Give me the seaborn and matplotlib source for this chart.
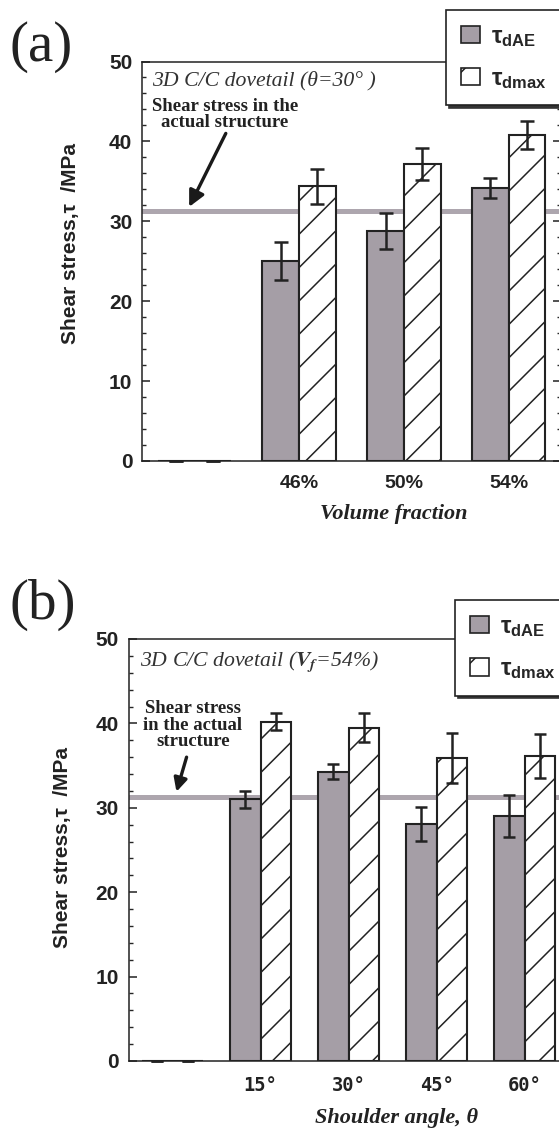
import matplotlib
matplotlib.use("Agg")
import matplotlib.pyplot as plt
from matplotlib.patches import Patch
from matplotlib.ticker import MultipleLocator
from matplotlib.font_manager import FontProperties
import numpy as np
import pandas as pd
import seaborn as sns

# ---- data -------------------------------------------------------------
series = ["dAE", "dmax"]

vf_labels = ["", "46%", "50%", "54%"]
vf_dae = [0.0, 25.0, 28.8, 34.2]
vf_dae_err = [0.0, 2.4, 2.3, 1.25]
vf_dmax = [0.0, 34.4, 37.2, 40.8]
vf_dmax_err = [0.0, 2.2, 2.0, 1.8]

ang_labels = ["", "15°", "30°", "45°", "60°"]
ang_dae = [0.0, 31.0, 34.3, 28.1, 29.0]
ang_dae_err = [0.0, 1.0, 0.9, 2.0, 2.5]
ang_dmax = [0.0, 40.2, 39.5, 35.9, 36.1]
ang_dmax_err = [0.0, 1.0, 1.7, 3.0, 2.6]

actual_stress = 31.3

# ---- style ------------------------------------------------------------
sns.set_style("ticks")
plt.rcParams.update({
    "font.family": ["Liberation Sans", "DejaVu Sans"],
    "font.weight": "bold",
    "axes.linewidth": 1.1,
    "hatch.color": "#222222",
    "hatch.linewidth": 1.1,
    "mathtext.fontset": "custom",
    "mathtext.bf": "Liberation Sans:bold",
    "mathtext.rm": "Liberation Sans",
    "mathtext.it": "Liberation Sans:italic",
})

GRAY = "#a59ea6"
EDGE = "#222222"
LINE = "#ada6ae"
SERIF = ["Liberation Serif", "DejaVu Serif"]

W, H = 559, 1136
fig = plt.figure(figsize=(W / 100, H / 100), dpi=100)
fig.patch.set_facecolor("white")


def long_frame(labels, dae, dmax):
    n = len(labels)
    return pd.DataFrame({
        "cat": labels * 2,
        "value": dae + dmax,
        "series": [series[0]] * n + [series[1]] * n,
    })


def draw_panel(ax, labels, dae, dae_err, dmax, dmax_err, capsize):
    df = long_frame(labels, dae, dmax)
    sns.barplot(data=df, x="cat", y="value", hue="series", order=labels,
                hue_order=series, palette={series[0]: GRAY, series[1]: "white"},
                errorbar=None, width=0.7, gap=0, saturation=1,
                edgecolor=EDGE, linewidth=1.5, legend=False, ax=ax, zorder=2)
    for p in ax.containers[1]:
        p.set_hatch("/")
    for cont, vals, errs in zip(ax.containers, [dae, dmax], [dae_err, dmax_err]):
        xs = [p.get_x() + p.get_width() / 2 for p in cont]
        eb = ax.errorbar(xs, vals, yerr=errs, fmt="none", ecolor=EDGE,
                         elinewidth=1.8, capsize=capsize, capthick=1.8, zorder=4)
        for art in eb.lines[1]:
            art.set_clip_on(False)
    ax.axhline(actual_stress, color=LINE, lw=3.6, zorder=1)
    ax.set_ylim(0, 50)
    ax.set_xlim(-0.5, len(labels) - 0.5)
    ax.yaxis.set_major_locator(MultipleLocator(10))
    ax.yaxis.set_minor_locator(MultipleLocator(2))
    ax.tick_params(axis="y", which="major", direction="in", length=6, width=1.1,
                   right=True, labelsize=15, pad=7, colors=EDGE)
    ax.tick_params(axis="y", which="minor", direction="in", length=3, width=1.0,
                   right=True)
    ax.tick_params(axis="x", length=0, pad=10, colors=EDGE)
    for s in ax.spines.values():
        s.set_visible(True)
        s.set_color(EDGE)
    ax.set_facecolor("white")


def add_legend(ax, anchor):
    handles = [Patch(facecolor=GRAY, edgecolor=EDGE, lw=1.2),
               Patch(facecolor="white", edgecolor=EDGE, lw=1.2, hatch="/")]
    labels = [r"$\mathbf{\tau}_{\mathbf{dAE}}$", r"$\mathbf{\tau}_{\mathbf{dmax}}$"]
    prop = FontProperties(family=["Liberation Sans"], weight="bold", size=17,
                          math_fontfamily="custom")
    leg = ax.legend(handles, labels, loc="upper left", bbox_to_anchor=anchor,
                    borderaxespad=0, frameon=True, fancybox=False,
                    shadow={"color": "#333333", "alpha": 1.0}, prop=prop,
                    handlelength=0.8, handleheight=0.75, handletextpad=0.5,
                    borderpad=0.62, labelspacing=0.78)
    frame = leg.get_frame()
    frame.set_edgecolor(EDGE)
    frame.set_linewidth(1.2)
    frame.set_facecolor("white")
    frame.set_alpha(1)
    leg.set_zorder(10)
    return leg


# ---- panel (a): volume fraction ---------------------------------------
ax_a = fig.add_axes([142 / W, (H - 461) / H, 419 / W, 399.5 / H])
draw_panel(ax_a, vf_labels, vf_dae, vf_dae_err, vf_dmax, vf_dmax_err, capsize=5)
ax_a.set_xticks(range(len(vf_labels)))
ax_a.set_xticklabels(vf_labels, fontsize=14, fontweight="bold",
                     family=["Liberation Sans", "DejaVu Sans"])
ax_a.set_ylabel("Shear stress,τ  /MPa", fontsize=15, fontweight="bold",
                color=EDGE)
ax_a.yaxis.set_label_coords(-0.148, 0.545)
ax_a.set_xlabel("Volume fraction", fontsize=16, fontweight="bold",
                fontstyle="italic", family=SERIF, color=EDGE)
ax_a.xaxis.set_label_coords(0.60, -0.108)
ax_a.text(-0.40, 47.6, "3D C/C dovetail (θ=30° )", family=SERIF,
          fontstyle="italic", fontweight="normal", fontsize=15.7, va="center",
          ha="left", color="#333333")
ax_a.text(0.29, 43.4, "Shear stress in the\nactual structure", family=SERIF,
          fontweight="bold", fontsize=13.5, ha="center", va="center",
          linespacing=0.95, color=EDGE)
ax_a.annotate("", xy=(-0.05, 31.8), xytext=(0.30, 41.0),
              arrowprops=dict(arrowstyle="-|>", lw=2.4, color="#1a1a1a",
                              mutation_scale=24, shrinkA=0, shrinkB=0))
add_legend(ax_a, (0.7255, 1.129))

# ---- panel (b): shoulder angle ----------------------------------------
ax_b = fig.add_axes([128.5 / W, (H - 1061) / H, 440 / W, 422 / H])
draw_panel(ax_b, ang_labels, ang_dae, ang_dae_err, ang_dmax, ang_dmax_err,
           capsize=4.5)
ax_b.set_xticks(range(len(ang_labels)))
ax_b.set_xticklabels(ang_labels, fontsize=13.5, fontweight="bold",
                     family=["DejaVu Sans Mono"])
ax_b.tick_params(axis="x", pad=11)
ax_b.set_ylabel("Shear stress,τ  /MPa", fontsize=15, fontweight="bold",
                color=EDGE)
ax_b.yaxis.set_label_coords(-0.128, 0.505)
ax_b.set_xlabel("Shoulder angle, θ", fontsize=16, fontweight="bold",
                fontstyle="italic", family=SERIF, color=EDGE)
ax_b.xaxis.set_label_coords(0.61, -0.112)
ax_b.text(-0.375, 47.2, r"3D C/C dovetail ($V_f$=54%)", family=SERIF,
          fontstyle="italic", fontweight="normal", fontsize=15.7, va="center",
          ha="left", color="#333333", math_fontfamily="stix")
ax_b.text(0.23, 39.8, "Shear stress\nin the actual\nstructure", family=SERIF,
          fontweight="bold", fontsize=13.5, ha="center", va="center",
          linespacing=0.95, color=EDGE)
ax_b.annotate("", xy=(0.045, 31.9), xytext=(0.16, 36.0),
              arrowprops=dict(arrowstyle="-|>", lw=2.4, color="#1a1a1a",
                              mutation_scale=20, shrinkA=0, shrinkB=0))
add_legend(ax_b, (0.742, 1.092))

# ---- panel tags -------------------------------------------------------
fig.text(10 / W, 1 - 47 / H, "(a)", family=SERIF, fontweight="normal",
         fontsize=41, va="center", ha="left", color=EDGE)
fig.text(10 / W, 1 - 605 / H, "(b)", family=SERIF, fontweight="normal",
         fontsize=41, va="center", ha="left", color=EDGE)

fig.savefig("out.png", dpi=100)
